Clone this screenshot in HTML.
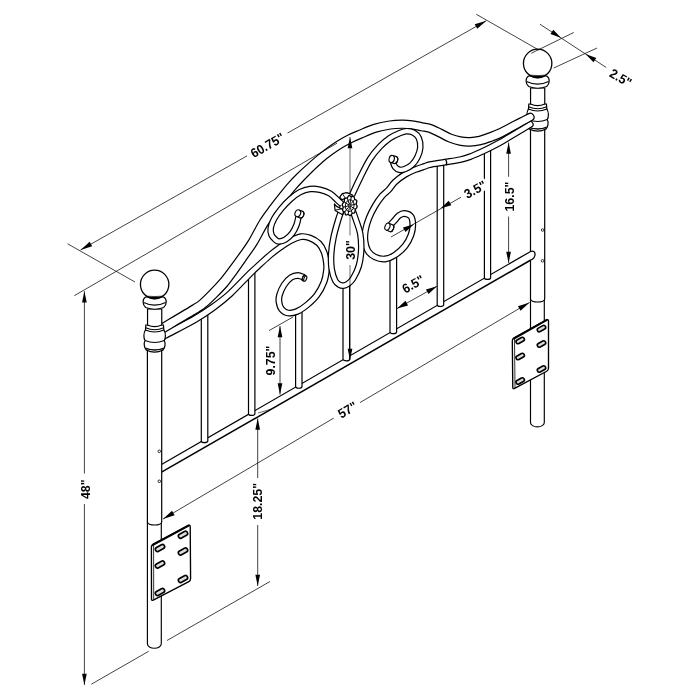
<!DOCTYPE html>
<html><head><meta charset="utf-8"><title>Headboard dimensions</title>
<style>html,body{margin:0;padding:0;background:#fff}svg{display:block}text{font-family:"Liberation Sans",Arial,sans-serif;font-weight:bold;fill:#000}</style>
</head><body>
<svg width="700" height="700" viewBox="0 0 700 700">
<rect width="700" height="700" fill="#fff"/>
<path d="M530.50 298.50 L530.50 422.50 A6.90 4.4 0 0 0 544.30 422.50 L544.30 298.50" fill="#fff" stroke="#000" stroke-width="1.15"/>
<path d="M530.50 128.00 L530.50 299.00 A7.10 3 0 0 0 544.70 299.00 L544.70 128.00" fill="#fff" stroke="#000" stroke-width="1.2"/>
<path d="M161.50 464.50 L530.60 251.46 C536.20 249.26 537.00 257.86 530.20 260.26 Q346.05 365.68 161.50 472.20 Z" fill="#fff" stroke="none"/>
<path d="M161.50 464.50 L530.60 251.46 C536.20 249.26 537.00 257.86 530.20 260.26" fill="none" stroke="#000" stroke-width="1.25"/>
<path d="M161.50 472.20 Q346.05 365.68 530.40 260.26" fill="none" stroke="#000" stroke-width="1.5"/>
<path d="M147.40 521.50 L147.40 643.80 A6.95 4.4 0 0 0 161.30 643.80 L161.30 521.50" fill="#fff" stroke="#000" stroke-width="1.15"/>
<path d="M147.40 345.00 L147.40 522.00 A7.15 3 0 0 0 161.70 522.00 L161.70 345.00" fill="#fff" stroke="#000" stroke-width="1.2"/>
<path d="M201.30 312.00 L201.30 440.95 A3.25 1.70 0 0 0 207.80 440.95 L207.80 312.00" fill="#fff" stroke="#000" stroke-width="1.2"/>
<path d="M248.50 272.00 L248.50 413.74 A3.20 1.70 0 0 0 254.90 413.74 L254.90 272.00" fill="#fff" stroke="#000" stroke-width="1.2"/>
<path d="M295.60 312.00 L295.60 386.55 A3.20 1.70 0 0 0 302.00 386.55 L302.00 312.00" fill="#fff" stroke="#000" stroke-width="1.2"/>
<path d="M343.00 284.00 L343.00 359.13 A3.30 1.70 0 0 0 349.60 359.13 L349.60 284.00" fill="#fff" stroke="#000" stroke-width="1.2"/>
<path d="M390.00 257.00 L390.00 332.01 A3.30 1.70 0 0 0 396.60 332.01 L396.60 257.00" fill="#fff" stroke="#000" stroke-width="1.2"/>
<path d="M437.20 160.00 L437.20 304.79 A3.25 1.70 0 0 0 443.70 304.79 L443.70 160.00" fill="#fff" stroke="#000" stroke-width="1.2"/>
<path d="M484.40 148.00 L484.40 277.63 A3.10 1.70 0 0 0 490.60 277.63 L490.60 148.00" fill="#fff" stroke="#000" stroke-width="1.2"/>
<path d="M528.45 109.00 C526.45 112.00 526.45 117.00 528.05 119.50 C526.65 122.00 527.05 127.00 529.25 129.00 L546.05 129.00 C548.25 127.00 548.65 122.00 547.25 119.50 C548.85 117.00 548.85 112.00 546.85 109.00 Z" fill="#fff" stroke="#000" stroke-width="1.2"/>
<path d="M529.25 129.00 Q537.65 133.20 546.05 129.00" fill="#fff" stroke="#000" stroke-width="1.2"/>
<path d="M528.45 127.00 Q537.65 131.20 546.85 127.00" fill="none" stroke="#000" stroke-width="1.1"/>
<path d="M528.05 119.50 Q537.65 123.50 547.25 119.50" fill="none" stroke="#000" stroke-width="1.1"/>
<path d="M528.85 104.00 L528.45 109.00 Q537.65 113.00 546.85 109.00 L546.45 104.00 Z" fill="#fff" stroke="#000" stroke-width="1.2"/>
<path d="M528.65 106.80 Q537.65 110.60 546.65 106.80" fill="none" stroke="#000" stroke-width="1.1"/>
<path d="M530.55 88.00 L530.55 104.00 Q537.65 107.40 544.75 104.00 L544.75 88.00 Z" fill="#fff" stroke="#000" stroke-width="1.2"/>
<path d="M528.65 76.00 C525.05 78.00 525.45 84.00 528.65 86.50 Q537.65 90.00 546.65 86.50 C549.85 84.00 550.25 78.00 546.65 76.00 Z" fill="#fff" stroke="#000" stroke-width="1.2"/>
<path d="M526.65 81.50 Q537.65 86.80 548.65 81.50" fill="none" stroke="#000" stroke-width="1.1"/>
<circle cx="537.65" cy="63.40" r="14.2" fill="#fff" stroke="#000" stroke-width="1.3"/>
<path d="M529.15 75.00 Q537.65 81.60 546.15 75.00 Q537.65 76.00 529.15 75.00 Z" fill="#000" stroke="#000" stroke-width="0.5"/>
<path d="M161.66 340.77 C162.48 340.31 160.77 341.13 166.60 338.00 C172.43 334.86 188.60 326.63 196.64 321.96 C204.69 317.29 208.98 314.32 214.87 309.99 C220.77 305.67 225.83 301.75 232.03 296.01 C238.22 290.27 247.06 280.52 252.04 275.56 C257.01 270.61 258.56 269.33 261.89 266.26 C265.22 263.20 268.71 259.90 271.99 257.15 C275.28 254.40 278.40 252.06 281.62 249.79 C284.83 247.51 287.98 245.21 291.28 243.49 C294.58 241.77 298.46 239.95 301.42 239.47 C304.37 238.99 306.41 239.62 309.01 240.62 C311.61 241.62 314.96 243.41 317.02 245.48 C319.08 247.55 320.31 250.21 321.40 253.03 C322.48 255.85 323.14 259.61 323.53 262.39 C323.91 265.16 324.08 266.58 323.72 269.68 C323.36 272.78 322.88 277.06 321.38 281.01 C319.89 284.95 317.44 289.70 314.75 293.34 C312.05 296.97 308.36 300.24 305.22 302.84 C302.08 305.44 298.71 307.69 295.91 308.92 C293.12 310.15 290.49 310.52 288.45 310.24 C286.40 309.95 284.78 308.67 283.67 307.23 C282.55 305.79 282.02 303.51 281.77 301.60 C281.53 299.70 281.42 298.30 282.19 295.79 C282.95 293.28 284.61 289.20 286.34 286.54 C288.07 283.88 290.63 281.19 292.57 279.82 C294.52 278.44 296.24 278.24 298.00 278.30 C299.76 278.36 302.26 279.85 303.11 280.16 L304.89 274.84 C303.74 274.49 300.58 272.64 298.00 272.70 C295.42 272.76 292.15 273.39 289.43 275.18 C286.70 276.98 283.76 280.29 281.66 283.46 C279.56 286.63 277.72 291.05 276.81 294.21 C275.91 297.37 275.81 299.64 276.23 302.40 C276.65 305.16 277.45 308.55 279.33 310.77 C281.22 313.00 284.43 315.21 287.55 315.76 C290.68 316.32 294.55 315.51 298.09 314.08 C301.62 312.65 305.25 310.06 308.78 307.16 C312.31 304.26 316.28 300.69 319.25 296.66 C322.22 292.64 324.95 287.39 326.62 282.99 C328.29 278.60 328.87 273.88 329.28 270.32 C329.69 266.76 329.52 264.84 329.07 261.61 C328.63 258.39 327.95 254.32 326.60 250.97 C325.26 247.62 323.58 244.12 320.98 241.52 C318.38 238.92 314.39 236.65 310.99 235.38 C307.59 234.12 304.30 233.41 300.58 233.93 C296.87 234.45 292.42 236.63 288.72 238.51 C285.02 240.39 281.77 242.82 278.38 245.21 C275.00 247.60 271.78 250.03 268.41 252.85 C265.03 255.67 261.52 259.04 258.11 262.14 C254.70 265.23 252.99 266.53 247.96 271.44 C242.94 276.34 234.11 286.03 227.97 291.59 C221.83 297.15 216.90 300.70 211.13 304.81 C205.36 308.92 201.31 311.71 193.36 316.24 C185.40 320.77 169.23 328.90 163.40 332.00 C157.56 335.10 159.18 334.36 158.34 334.83 Z" fill="#fff" stroke="none"/>
<path d="M161.66 340.77 C162.48 340.31 160.77 341.13 166.60 338.00 C172.43 334.86 188.60 326.63 196.64 321.96 C204.69 317.29 208.98 314.32 214.87 309.99 C220.77 305.67 225.83 301.75 232.03 296.01 C238.22 290.27 247.06 280.52 252.04 275.56 C257.01 270.61 258.56 269.33 261.89 266.26 C265.22 263.20 268.71 259.90 271.99 257.15 C275.28 254.40 278.40 252.06 281.62 249.79 C284.83 247.51 287.98 245.21 291.28 243.49 C294.58 241.77 298.46 239.95 301.42 239.47 C304.37 238.99 306.41 239.62 309.01 240.62 C311.61 241.62 314.96 243.41 317.02 245.48 C319.08 247.55 320.31 250.21 321.40 253.03 C322.48 255.85 323.14 259.61 323.53 262.39 C323.91 265.16 324.08 266.58 323.72 269.68 C323.36 272.78 322.88 277.06 321.38 281.01 C319.89 284.95 317.44 289.70 314.75 293.34 C312.05 296.97 308.36 300.24 305.22 302.84 C302.08 305.44 298.71 307.69 295.91 308.92 C293.12 310.15 290.49 310.52 288.45 310.24 C286.40 309.95 284.78 308.67 283.67 307.23 C282.55 305.79 282.02 303.51 281.77 301.60 C281.53 299.70 281.42 298.30 282.19 295.79 C282.95 293.28 284.61 289.20 286.34 286.54 C288.07 283.88 290.63 281.19 292.57 279.82 C294.52 278.44 296.24 278.24 298.00 278.30 C299.76 278.36 302.26 279.85 303.11 280.16" fill="none" stroke="#000" stroke-width="1.20" stroke-linecap="round"/>
<path d="M304.89 274.84 C303.74 274.49 300.58 272.64 298.00 272.70 C295.42 272.76 292.15 273.39 289.43 275.18 C286.70 276.98 283.76 280.29 281.66 283.46 C279.56 286.63 277.72 291.05 276.81 294.21 C275.91 297.37 275.81 299.64 276.23 302.40 C276.65 305.16 277.45 308.55 279.33 310.77 C281.22 313.00 284.43 315.21 287.55 315.76 C290.68 316.32 294.55 315.51 298.09 314.08 C301.62 312.65 305.25 310.06 308.78 307.16 C312.31 304.26 316.28 300.69 319.25 296.66 C322.22 292.64 324.95 287.39 326.62 282.99 C328.29 278.60 328.87 273.88 329.28 270.32 C329.69 266.76 329.52 264.84 329.07 261.61 C328.63 258.39 327.95 254.32 326.60 250.97 C325.26 247.62 323.58 244.12 320.98 241.52 C318.38 238.92 314.39 236.65 310.99 235.38 C307.59 234.12 304.30 233.41 300.58 233.93 C296.87 234.45 292.42 236.63 288.72 238.51 C285.02 240.39 281.77 242.82 278.38 245.21 C275.00 247.60 271.78 250.03 268.41 252.85 C265.03 255.67 261.52 259.04 258.11 262.14 C254.70 265.23 252.99 266.53 247.96 271.44 C242.94 276.34 234.11 286.03 227.97 291.59 C221.83 297.15 216.90 300.70 211.13 304.81 C205.36 308.92 201.31 311.71 193.36 316.24 C185.40 320.77 169.23 328.90 163.40 332.00 C157.56 335.10 159.18 334.36 158.34 334.83" fill="none" stroke="#000" stroke-width="1.20" stroke-linecap="round"/>
<path d="M389.00 226.50 C389.83 225.58 392.33 222.83 394.00 221.00 C395.67 219.17 397.25 216.75 399.00 215.50 C400.75 214.25 402.50 213.33 404.50 213.50 C406.50 213.67 409.62 214.58 411.00 216.50 C412.38 218.42 412.80 221.92 412.80 225.00 C412.80 228.08 412.30 231.50 411.00 235.00 C409.70 238.50 407.67 242.67 405.00 246.00 C402.33 249.33 398.33 252.83 395.00 255.00 C391.67 257.17 388.33 258.67 385.00 259.00 C381.67 259.33 377.83 258.33 375.00 257.00 C372.17 255.67 369.67 253.67 368.00 251.00 C366.33 248.33 365.42 244.50 365.00 241.00 C364.58 237.50 364.83 233.83 365.50 230.00 C366.17 226.17 367.42 222.00 369.00 218.00 C370.58 214.00 372.83 209.67 375.00 206.00 C377.17 202.33 379.75 198.67 382.00 196.00 C384.25 193.33 386.33 192.33 388.50 190.00 C390.67 187.67 392.25 184.58 395.00 182.00 C397.75 179.42 401.67 176.55 405.00 174.50 C408.33 172.45 411.67 171.07 415.00 169.70 C418.33 168.33 422.50 167.15 425.00 166.30 C427.50 165.45 426.67 165.28 430.00 164.60 C433.33 163.92 440.00 163.02 445.00 162.20 C450.00 161.38 455.83 160.62 460.00 159.70 C464.17 158.78 466.67 157.90 470.00 156.70 C473.33 155.50 476.67 154.00 480.00 152.50 C483.33 151.00 486.67 149.37 490.00 147.70 C493.33 146.03 497.17 144.05 500.00 142.50 C502.83 140.95 503.67 140.38 507.00 138.40 C510.33 136.42 516.12 132.93 520.00 130.60 C523.88 128.27 528.58 125.43 530.30 124.40" fill="none" stroke="#000" stroke-width="6.80" stroke-linecap="round" stroke-linejoin="round"/>
<path d="M389.00 226.50 C389.83 225.58 392.33 222.83 394.00 221.00 C395.67 219.17 397.25 216.75 399.00 215.50 C400.75 214.25 402.50 213.33 404.50 213.50 C406.50 213.67 409.62 214.58 411.00 216.50 C412.38 218.42 412.80 221.92 412.80 225.00 C412.80 228.08 412.30 231.50 411.00 235.00 C409.70 238.50 407.67 242.67 405.00 246.00 C402.33 249.33 398.33 252.83 395.00 255.00 C391.67 257.17 388.33 258.67 385.00 259.00 C381.67 259.33 377.83 258.33 375.00 257.00 C372.17 255.67 369.67 253.67 368.00 251.00 C366.33 248.33 365.42 244.50 365.00 241.00 C364.58 237.50 364.83 233.83 365.50 230.00 C366.17 226.17 367.42 222.00 369.00 218.00 C370.58 214.00 372.83 209.67 375.00 206.00 C377.17 202.33 379.75 198.67 382.00 196.00 C384.25 193.33 386.33 192.33 388.50 190.00 C390.67 187.67 392.25 184.58 395.00 182.00 C397.75 179.42 401.67 176.55 405.00 174.50 C408.33 172.45 411.67 171.07 415.00 169.70 C418.33 168.33 422.50 167.15 425.00 166.30 C427.50 165.45 426.67 165.28 430.00 164.60 C433.33 163.92 440.00 163.02 445.00 162.20 C450.00 161.38 455.83 160.62 460.00 159.70 C464.17 158.78 466.67 157.90 470.00 156.70 C473.33 155.50 476.67 154.00 480.00 152.50 C483.33 151.00 486.67 149.37 490.00 147.70 C493.33 146.03 497.17 144.05 500.00 142.50 C502.83 140.95 503.67 140.38 507.00 138.40 C510.33 136.42 516.12 132.93 520.00 130.60 C523.88 128.27 528.58 125.43 530.30 124.40" fill="none" stroke="#fff" stroke-width="4.40" stroke-linecap="round" stroke-linejoin="round"/>
<path d="M162.26 333.59 C163.10 333.11 161.44 334.13 167.29 330.67 C173.14 327.22 190.92 316.83 197.38 312.88 C203.84 308.92 202.88 309.52 206.04 306.93 C209.21 304.35 212.79 300.88 216.37 297.35 C219.94 293.82 224.09 289.75 227.49 285.74 C230.90 281.73 233.47 277.89 236.79 273.28 C240.11 268.68 244.07 262.93 247.42 258.11 C250.78 253.30 253.55 249.89 256.92 244.40 C260.30 238.91 264.21 230.68 267.69 225.17 C271.17 219.66 274.47 215.73 277.80 211.35 C281.12 206.98 284.59 202.70 287.64 198.91 C290.69 195.12 293.46 191.65 296.07 188.63 C298.69 185.60 300.49 183.71 303.31 180.77 C306.12 177.83 309.75 174.12 312.97 170.98 C316.19 167.84 319.40 164.72 322.64 161.94 C325.88 159.16 329.17 156.69 332.42 154.31 C335.67 151.94 338.91 149.67 342.15 147.69 C345.39 145.71 348.60 144.02 351.84 142.42 C355.08 140.82 357.52 139.79 361.57 138.09 C365.63 136.38 371.36 133.68 376.20 132.17 C381.04 130.65 386.30 129.66 390.61 129.00 C394.91 128.35 398.56 128.28 402.04 128.25 C405.52 128.22 408.28 128.40 411.48 128.82 C414.67 129.24 418.34 130.21 421.21 130.77 C424.08 131.33 425.85 131.21 428.70 132.18 C431.54 133.15 434.97 135.01 438.27 136.61 C441.57 138.20 445.00 140.35 448.50 141.76 C451.99 143.17 455.62 144.36 459.23 145.08 C462.83 145.79 466.48 146.11 470.11 146.05 C473.73 145.98 477.40 145.48 480.96 144.69 C484.53 143.90 488.02 142.59 491.51 141.33 C495.00 140.08 497.52 139.35 501.92 137.16 C506.32 134.97 513.94 130.44 517.93 128.22 C521.91 126.00 523.44 125.19 525.83 123.84 C528.22 122.50 531.18 120.77 532.25 120.16 L528.75 113.64 C527.65 114.19 524.62 115.73 522.17 116.96 C519.72 118.18 518.09 118.93 514.07 120.98 C510.06 123.03 502.34 127.23 498.08 129.24 C493.82 131.25 491.67 131.89 488.49 133.07 C485.32 134.24 482.14 135.56 479.04 136.31 C475.94 137.06 472.94 137.45 469.89 137.55 C466.85 137.65 463.84 137.47 460.77 136.92 C457.71 136.37 454.68 135.49 451.50 134.24 C448.33 132.98 445.10 131.00 441.73 129.39 C438.36 127.79 434.46 125.71 431.30 124.62 C428.15 123.52 425.92 123.47 422.79 122.83 C419.66 122.19 415.99 121.23 412.52 120.78 C409.05 120.34 405.82 120.11 401.96 120.15 C398.11 120.19 394.09 120.28 389.39 121.00 C384.70 121.71 378.96 122.85 373.80 124.43 C368.64 126.02 362.70 128.76 358.43 130.51 C354.15 132.27 351.59 133.28 348.16 134.98 C344.73 136.68 341.28 138.59 337.85 140.71 C334.42 142.83 331.00 145.20 327.58 147.69 C324.17 150.18 320.79 152.84 317.36 155.66 C313.94 158.48 310.47 161.53 307.03 164.62 C303.58 167.72 299.71 171.27 296.69 174.23 C293.68 177.19 291.68 179.26 288.93 182.37 C286.17 185.48 283.28 189.01 280.16 192.89 C277.04 196.77 273.60 201.09 270.20 205.65 C266.81 210.20 263.33 214.57 259.81 220.23 C256.29 225.89 252.38 234.16 249.08 239.60 C245.77 245.04 243.29 248.20 239.98 252.89 C236.66 257.57 232.52 263.29 229.21 267.72 C225.90 272.15 223.37 275.63 220.11 279.46 C216.84 283.28 212.96 287.25 209.63 290.65 C206.31 294.05 202.99 297.45 200.16 299.87 C197.32 302.28 198.86 301.28 192.62 305.12 C186.38 308.97 168.52 319.48 162.71 322.93 C156.90 326.37 158.57 325.33 157.74 325.81 Z" fill="#fff" stroke="none"/>
<path d="M162.26 333.59 C163.10 333.11 161.44 334.13 167.29 330.67 C173.14 327.22 190.92 316.83 197.38 312.88 C203.84 308.92 202.88 309.52 206.04 306.93 C209.21 304.35 212.79 300.88 216.37 297.35 C219.94 293.82 224.09 289.75 227.49 285.74 C230.90 281.73 233.47 277.89 236.79 273.28 C240.11 268.68 244.07 262.93 247.42 258.11 C250.78 253.30 253.55 249.89 256.92 244.40 C260.30 238.91 264.21 230.68 267.69 225.17 C271.17 219.66 274.47 215.73 277.80 211.35 C281.12 206.98 284.59 202.70 287.64 198.91 C290.69 195.12 293.46 191.65 296.07 188.63 C298.69 185.60 300.49 183.71 303.31 180.77 C306.12 177.83 309.75 174.12 312.97 170.98 C316.19 167.84 319.40 164.72 322.64 161.94 C325.88 159.16 329.17 156.69 332.42 154.31 C335.67 151.94 338.91 149.67 342.15 147.69 C345.39 145.71 348.60 144.02 351.84 142.42 C355.08 140.82 357.52 139.79 361.57 138.09 C365.63 136.38 371.36 133.68 376.20 132.17 C381.04 130.65 386.30 129.66 390.61 129.00 C394.91 128.35 398.56 128.28 402.04 128.25 C405.52 128.22 408.28 128.40 411.48 128.82 C414.67 129.24 418.34 130.21 421.21 130.77 C424.08 131.33 425.85 131.21 428.70 132.18 C431.54 133.15 434.97 135.01 438.27 136.61 C441.57 138.20 445.00 140.35 448.50 141.76 C451.99 143.17 455.62 144.36 459.23 145.08 C462.83 145.79 466.48 146.11 470.11 146.05 C473.73 145.98 477.40 145.48 480.96 144.69 C484.53 143.90 488.02 142.59 491.51 141.33 C495.00 140.08 497.52 139.35 501.92 137.16 C506.32 134.97 513.94 130.44 517.93 128.22 C521.91 126.00 523.44 125.19 525.83 123.84 C528.22 122.50 531.18 120.77 532.25 120.16" fill="none" stroke="#000" stroke-width="1.20" stroke-linecap="round"/>
<path d="M528.75 113.64 C527.65 114.19 524.62 115.73 522.17 116.96 C519.72 118.18 518.09 118.93 514.07 120.98 C510.06 123.03 502.34 127.23 498.08 129.24 C493.82 131.25 491.67 131.89 488.49 133.07 C485.32 134.24 482.14 135.56 479.04 136.31 C475.94 137.06 472.94 137.45 469.89 137.55 C466.85 137.65 463.84 137.47 460.77 136.92 C457.71 136.37 454.68 135.49 451.50 134.24 C448.33 132.98 445.10 131.00 441.73 129.39 C438.36 127.79 434.46 125.71 431.30 124.62 C428.15 123.52 425.92 123.47 422.79 122.83 C419.66 122.19 415.99 121.23 412.52 120.78 C409.05 120.34 405.82 120.11 401.96 120.15 C398.11 120.19 394.09 120.28 389.39 121.00 C384.70 121.71 378.96 122.85 373.80 124.43 C368.64 126.02 362.70 128.76 358.43 130.51 C354.15 132.27 351.59 133.28 348.16 134.98 C344.73 136.68 341.28 138.59 337.85 140.71 C334.42 142.83 331.00 145.20 327.58 147.69 C324.17 150.18 320.79 152.84 317.36 155.66 C313.94 158.48 310.47 161.53 307.03 164.62 C303.58 167.72 299.71 171.27 296.69 174.23 C293.68 177.19 291.68 179.26 288.93 182.37 C286.17 185.48 283.28 189.01 280.16 192.89 C277.04 196.77 273.60 201.09 270.20 205.65 C266.81 210.20 263.33 214.57 259.81 220.23 C256.29 225.89 252.38 234.16 249.08 239.60 C245.77 245.04 243.29 248.20 239.98 252.89 C236.66 257.57 232.52 263.29 229.21 267.72 C225.90 272.15 223.37 275.63 220.11 279.46 C216.84 283.28 212.96 287.25 209.63 290.65 C206.31 294.05 202.99 297.45 200.16 299.87 C197.32 302.28 198.86 301.28 192.62 305.12 C186.38 308.97 168.52 319.48 162.71 322.93 C156.90 326.37 158.57 325.33 157.74 325.81" fill="none" stroke="#000" stroke-width="1.20" stroke-linecap="round"/>
<path d="M532.25 120.16 C536.29 117.98 532.79 111.47 528.75 113.64" fill="#fff" stroke="#000" stroke-width="1.20"/>
<path d="M298.70 216.00 C298.33 217.50 297.62 222.08 296.50 225.00 C295.38 227.92 293.83 231.08 292.00 233.50 C290.17 235.92 287.67 238.17 285.50 239.50 C283.33 240.83 280.67 241.45 279.00 241.50 C277.33 241.55 276.75 240.88 275.50 239.80 C274.25 238.72 272.30 236.97 271.50 235.00 C270.70 233.03 270.28 230.67 270.70 228.00 C271.12 225.33 272.28 222.17 274.00 219.00 C275.72 215.83 278.33 212.25 281.00 209.00 C283.67 205.75 286.83 202.30 290.00 199.50 C293.17 196.70 296.67 193.95 300.00 192.20 C303.33 190.45 306.67 189.42 310.00 189.00 C313.33 188.58 316.67 188.95 320.00 189.70 C323.33 190.45 327.00 191.68 330.00 193.50 C333.00 195.32 335.50 198.35 338.00 200.60 C340.50 202.85 343.83 205.93 345.00 207.00" fill="none" stroke="#000" stroke-width="6.60" stroke-linecap="butt" stroke-linejoin="round"/>
<path d="M298.70 216.00 C298.33 217.50 297.62 222.08 296.50 225.00 C295.38 227.92 293.83 231.08 292.00 233.50 C290.17 235.92 287.67 238.17 285.50 239.50 C283.33 240.83 280.67 241.45 279.00 241.50 C277.33 241.55 276.75 240.88 275.50 239.80 C274.25 238.72 272.30 236.97 271.50 235.00 C270.70 233.03 270.28 230.67 270.70 228.00 C271.12 225.33 272.28 222.17 274.00 219.00 C275.72 215.83 278.33 212.25 281.00 209.00 C283.67 205.75 286.83 202.30 290.00 199.50 C293.17 196.70 296.67 193.95 300.00 192.20 C303.33 190.45 306.67 189.42 310.00 189.00 C313.33 188.58 316.67 188.95 320.00 189.70 C323.33 190.45 327.00 191.68 330.00 193.50 C333.00 195.32 335.50 198.35 338.00 200.60 C340.50 202.85 343.83 205.93 345.00 207.00" fill="none" stroke="#fff" stroke-width="4.20" stroke-linecap="butt" stroke-linejoin="round"/>
<path d="M352.00 195.00 C353.33 192.17 357.00 184.00 360.00 178.00 C363.00 172.00 366.67 164.25 370.00 159.00 C373.33 153.75 376.67 150.00 380.00 146.50 C383.33 143.00 386.67 140.25 390.00 138.00 C393.33 135.75 397.25 134.13 400.00 133.00 C402.75 131.87 404.25 131.25 406.50 131.20 C408.75 131.15 411.45 131.57 413.50 132.70 C415.55 133.83 417.67 135.53 418.80 138.00 C419.93 140.47 420.52 144.33 420.30 147.50 C420.08 150.67 418.88 154.12 417.50 157.00 C416.12 159.88 414.08 162.80 412.00 164.80 C409.92 166.80 407.08 168.17 405.00 169.00 C402.92 169.83 401.17 170.17 399.50 169.80 C397.83 169.43 396.08 168.10 395.00 166.80 C393.92 165.50 393.33 162.80 393.00 162.00" fill="none" stroke="#000" stroke-width="6.60" stroke-linecap="butt" stroke-linejoin="round"/>
<path d="M352.00 195.00 C353.33 192.17 357.00 184.00 360.00 178.00 C363.00 172.00 366.67 164.25 370.00 159.00 C373.33 153.75 376.67 150.00 380.00 146.50 C383.33 143.00 386.67 140.25 390.00 138.00 C393.33 135.75 397.25 134.13 400.00 133.00 C402.75 131.87 404.25 131.25 406.50 131.20 C408.75 131.15 411.45 131.57 413.50 132.70 C415.55 133.83 417.67 135.53 418.80 138.00 C419.93 140.47 420.52 144.33 420.30 147.50 C420.08 150.67 418.88 154.12 417.50 157.00 C416.12 159.88 414.08 162.80 412.00 164.80 C409.92 166.80 407.08 168.17 405.00 169.00 C402.92 169.83 401.17 170.17 399.50 169.80 C397.83 169.43 396.08 168.10 395.00 166.80 C393.92 165.50 393.33 162.80 393.00 162.00" fill="none" stroke="#fff" stroke-width="4.20" stroke-linecap="butt" stroke-linejoin="round"/>
<path d="M343.00 206.00 C342.20 208.33 339.78 214.75 338.20 220.00 C336.62 225.25 334.67 231.83 333.50 237.50 C332.33 243.17 331.50 248.75 331.20 254.00 C330.90 259.25 331.03 264.57 331.70 269.00 C332.37 273.43 333.93 278.00 335.20 280.60 C336.47 283.20 337.92 283.77 339.30 284.60 C340.68 285.43 342.02 285.77 343.50 285.60 C344.98 285.43 346.62 284.77 348.20 283.60 C349.78 282.43 351.23 281.53 353.00 278.60 C354.77 275.67 357.43 270.77 358.80 266.00 C360.17 261.23 360.97 255.42 361.20 250.00 C361.43 244.58 361.07 238.50 360.20 233.50 C359.33 228.50 357.53 224.58 356.00 220.00 C354.47 215.42 351.83 208.33 351.00 206.00" fill="none" stroke="#000" stroke-width="6.60" stroke-linecap="butt" stroke-linejoin="round"/>
<path d="M343.00 206.00 C342.20 208.33 339.78 214.75 338.20 220.00 C336.62 225.25 334.67 231.83 333.50 237.50 C332.33 243.17 331.50 248.75 331.20 254.00 C330.90 259.25 331.03 264.57 331.70 269.00 C332.37 273.43 333.93 278.00 335.20 280.60 C336.47 283.20 337.92 283.77 339.30 284.60 C340.68 285.43 342.02 285.77 343.50 285.60 C344.98 285.43 346.62 284.77 348.20 283.60 C349.78 282.43 351.23 281.53 353.00 278.60 C354.77 275.67 357.43 270.77 358.80 266.00 C360.17 261.23 360.97 255.42 361.20 250.00 C361.43 244.58 361.07 238.50 360.20 233.50 C359.33 228.50 357.53 224.58 356.00 220.00 C354.47 215.42 351.83 208.33 351.00 206.00" fill="none" stroke="#fff" stroke-width="4.20" stroke-linecap="butt" stroke-linejoin="round"/>
<path d="M445.4 159.4 Q447.6 162 446.2 165.2" fill="none" stroke="#000" stroke-width="1.2"/>
<g transform="translate(299.40 213.90) rotate(-158.0)">
<ellipse cx="-1.70" cy="0" rx="2.80" ry="3.50" fill="#fff" stroke="#000" stroke-width="1.1"/>
<rect x="-1.70" y="-3.50" width="3.40" height="7.00" fill="#fff" stroke="none"/>
<path d="M-1.70 -3.50 L1.70 -3.50 M-1.70 3.50 L1.70 3.50" stroke="#000" stroke-width="1.1" fill="none"/>
<ellipse cx="1.70" cy="0" rx="2.80" ry="3.50" fill="#fff" stroke="#000" stroke-width="1.1"/>
<path d="M-1.70 -3.50 A2.80 3.50 0 0 0 -1.70 3.50" fill="none" stroke="#000" stroke-width="1.0"/>
</g>
<g transform="translate(304.50 278.30) rotate(20.0)">
<ellipse cx="-0.80" cy="0" rx="1.30" ry="2.80" fill="#fff" stroke="#000" stroke-width="1.1"/>
<rect x="-0.80" y="-2.80" width="1.60" height="5.60" fill="#fff" stroke="none"/>
<path d="M-0.80 -2.80 L0.80 -2.80 M-0.80 2.80 L0.80 2.80" stroke="#000" stroke-width="1.1" fill="none"/>
<ellipse cx="0.80" cy="0" rx="1.30" ry="2.80" fill="#fff" stroke="#000" stroke-width="1.1"/>
<path d="M-0.80 -2.80 A1.30 2.80 0 0 0 -0.80 2.80" fill="none" stroke="#000" stroke-width="1.0"/>
</g>
<g transform="translate(393.40 159.50) rotate(-164.0)">
<ellipse cx="-1.75" cy="0" rx="2.60" ry="3.60" fill="#fff" stroke="#000" stroke-width="1.1"/>
<rect x="-1.75" y="-3.60" width="3.50" height="7.20" fill="#fff" stroke="none"/>
<path d="M-1.75 -3.60 L1.75 -3.60 M-1.75 3.60 L1.75 3.60" stroke="#000" stroke-width="1.1" fill="none"/>
<ellipse cx="1.75" cy="0" rx="2.60" ry="3.60" fill="#fff" stroke="#000" stroke-width="1.1"/>
<path d="M-1.75 -3.60 A2.60 3.60 0 0 0 -1.75 3.60" fill="none" stroke="#000" stroke-width="1.0"/>
</g>
<g transform="translate(389.30 227.40) rotate(-158.0)">
<ellipse cx="-2.00" cy="0" rx="2.40" ry="3.70" fill="#fff" stroke="#000" stroke-width="1.1"/>
<rect x="-2.00" y="-3.70" width="4.00" height="7.40" fill="#fff" stroke="none"/>
<path d="M-2.00 -3.70 L2.00 -3.70 M-2.00 3.70 L2.00 3.70" stroke="#000" stroke-width="1.1" fill="none"/>
<ellipse cx="2.00" cy="0" rx="2.40" ry="3.70" fill="#fff" stroke="#000" stroke-width="1.1"/>
<path d="M-2.00 -3.70 A2.40 3.70 0 0 0 -2.00 3.70" fill="none" stroke="#000" stroke-width="1.0"/>
</g>
<path d="M339.70 197.20 L342.30 193.60 L346.90 192.60 L352.50 195.00 L349.00 199.50 L345.10 198.40 L341.90 199.80Z" fill="#fff" stroke="#000" stroke-width="1.20" stroke-linejoin="round"/>
<path d="M342.6 194 L345.4 198.2" stroke="#000" stroke-width="0.9" fill="none"/>
<path d="M334.40 204.00 L335.10 210.40 L342.60 214.80 L344.20 209.60 L341.10 208.70 L336.60 206.40Z" fill="#fff" stroke="#000" stroke-width="1.20" stroke-linejoin="round"/>
<path d="M335.4 210 L341.4 208.9" stroke="#000" stroke-width="0.9" fill="none"/>
<g transform="translate(349.70 205.60) rotate(10)">
<path d="M7.49 0.00 L7.41 0.53 L7.21 1.04 L6.91 1.50 L6.61 1.93 L6.35 2.33 L6.19 2.76 L6.14 3.23 L6.17 3.77 L6.24 4.36 L6.27 4.97 L6.23 5.55 L6.06 6.04 L5.77 6.41 L5.38 6.65 L4.95 6.79 L4.52 6.88 L4.14 7.01 L3.83 7.22 L3.58 7.56 L3.38 8.02 L3.18 8.55 L2.95 9.08 L2.66 9.51 L2.31 9.77 L1.92 9.84 L1.51 9.72 L1.10 9.48 L0.71 9.21 L0.34 9.01 L0.00 8.93 L-0.34 9.01 L-0.71 9.21 L-1.10 9.48 L-1.51 9.72 L-1.92 9.84 L-2.31 9.77 L-2.66 9.51 L-2.95 9.08 L-3.18 8.55 L-3.38 8.02 L-3.58 7.56 L-3.83 7.22 L-4.14 7.01 L-4.52 6.88 L-4.95 6.79 L-5.38 6.65 L-5.77 6.41 L-6.06 6.04 L-6.23 5.55 L-6.27 4.97 L-6.24 4.36 L-6.17 3.77 L-6.14 3.23 L-6.19 2.76 L-6.35 2.33 L-6.61 1.93 L-6.91 1.50 L-7.21 1.04 L-7.41 0.53 L-7.49 0.00 L-7.41 -0.53 L-7.21 -1.04 L-6.91 -1.50 L-6.61 -1.93 L-6.35 -2.33 L-6.19 -2.76 L-6.14 -3.23 L-6.17 -3.77 L-6.24 -4.36 L-6.27 -4.97 L-6.23 -5.55 L-6.06 -6.04 L-5.77 -6.41 L-5.38 -6.65 L-4.95 -6.79 L-4.52 -6.88 L-4.14 -7.01 L-3.83 -7.22 L-3.58 -7.56 L-3.38 -8.02 L-3.18 -8.55 L-2.95 -9.08 L-2.66 -9.51 L-2.31 -9.77 L-1.92 -9.84 L-1.51 -9.72 L-1.10 -9.48 L-0.71 -9.21 L-0.34 -9.01 L-0.00 -8.93 L0.34 -9.01 L0.71 -9.21 L1.10 -9.48 L1.51 -9.72 L1.92 -9.84 L2.31 -9.77 L2.66 -9.51 L2.95 -9.08 L3.18 -8.55 L3.38 -8.02 L3.58 -7.56 L3.83 -7.22 L4.14 -7.01 L4.52 -6.88 L4.95 -6.79 L5.38 -6.65 L5.77 -6.41 L6.06 -6.04 L6.23 -5.55 L6.27 -4.97 L6.24 -4.36 L6.17 -3.77 L6.14 -3.23 L6.19 -2.76 L6.35 -2.33 L6.61 -1.93 L6.91 -1.50 L7.21 -1.04 L7.41 -0.53Z" fill="#fff" stroke="#000" stroke-width="1.3" stroke-linejoin="round"/>
<path d="M1.86 0.83 L6.19 2.76" stroke="#000" stroke-width="0.9"/>
<path d="M1.15 2.17 L3.83 7.22" stroke="#000" stroke-width="0.9"/>
<path d="M0.00 2.69 L0.00 8.93" stroke="#000" stroke-width="0.9"/>
<path d="M-1.15 2.17 L-3.83 7.22" stroke="#000" stroke-width="0.9"/>
<path d="M-1.86 0.83 L-6.19 2.76" stroke="#000" stroke-width="0.9"/>
<path d="M-1.86 -0.83 L-6.19 -2.76" stroke="#000" stroke-width="0.9"/>
<path d="M-1.15 -2.17 L-3.83 -7.22" stroke="#000" stroke-width="0.9"/>
<path d="M-0.00 -2.69 L-0.00 -8.93" stroke="#000" stroke-width="0.9"/>
<path d="M1.15 -2.17 L3.83 -7.22" stroke="#000" stroke-width="0.9"/>
<path d="M1.86 -0.83 L6.19 -2.76" stroke="#000" stroke-width="0.9"/>
<ellipse cx="0" cy="0" rx="4.34" ry="5.95" fill="none" stroke="#000" stroke-width="0.9"/>
<ellipse cx="0" cy="0" rx="1.54" ry="2.11" fill="#555" stroke="#000" stroke-width="0.8"/>
</g>
<path d="M145.45 330.00 C143.45 333.00 143.45 338.00 145.05 340.50 C143.65 343.00 144.05 348.00 146.25 350.00 L163.05 350.00 C165.25 348.00 165.65 343.00 164.25 340.50 C165.85 338.00 165.85 333.00 163.85 330.00 Z" fill="#fff" stroke="#000" stroke-width="1.2"/>
<path d="M146.25 350.00 Q154.65 354.20 163.05 350.00" fill="#fff" stroke="#000" stroke-width="1.2"/>
<path d="M145.45 348.00 Q154.65 352.20 163.85 348.00" fill="none" stroke="#000" stroke-width="1.1"/>
<path d="M145.05 340.50 Q154.65 344.50 164.25 340.50" fill="none" stroke="#000" stroke-width="1.1"/>
<path d="M145.85 325.00 L145.45 330.00 Q154.65 334.00 163.85 330.00 L163.45 325.00 Z" fill="#fff" stroke="#000" stroke-width="1.2"/>
<path d="M145.65 327.80 Q154.65 331.60 163.65 327.80" fill="none" stroke="#000" stroke-width="1.1"/>
<path d="M147.55 309.00 L147.55 325.00 Q154.65 328.40 161.75 325.00 L161.75 309.00 Z" fill="#fff" stroke="#000" stroke-width="1.2"/>
<path d="M145.65 297.00 C142.05 299.00 142.45 305.00 145.65 307.50 Q154.65 311.00 163.65 307.50 C166.85 305.00 167.25 299.00 163.65 297.00 Z" fill="#fff" stroke="#000" stroke-width="1.2"/>
<path d="M143.65 302.50 Q154.65 307.80 165.65 302.50" fill="none" stroke="#000" stroke-width="1.1"/>
<circle cx="154.65" cy="284.40" r="14.2" fill="#fff" stroke="#000" stroke-width="1.3"/>
<path d="M146.15 296.00 Q154.65 302.60 163.15 296.00 Q154.65 297.00 146.15 296.00 Z" fill="#000" stroke="#000" stroke-width="0.5"/>
<circle cx="159.30" cy="451.30" r="1.3" fill="#fff" stroke="#000" stroke-width="0.8"/>
<circle cx="159.30" cy="481.30" r="1.3" fill="#fff" stroke="#000" stroke-width="0.8"/>
<circle cx="542.60" cy="230.00" r="1.3" fill="#fff" stroke="#000" stroke-width="0.8"/>
<circle cx="542.60" cy="260.80" r="1.3" fill="#fff" stroke="#000" stroke-width="0.8"/>
<path d="M151.40 547.00 Q151.40 545.00 153.17 544.07 L188.43 525.53 Q190.20 524.60 190.21 526.60 L190.59 578.60 Q190.60 580.60 188.83 581.53 L153.27 600.07 Q151.50 601.00 151.50 599.00 Z" fill="#fff" stroke="#000" stroke-width="1.35" stroke-linejoin="round"/>
<path d="M153.00 544.90 L188.60 525.50" fill="none" stroke="#000" stroke-width="2.0" stroke-linecap="round"/>
<path d="M153.60 545.30 L153.70 599.60" fill="none" stroke="#000" stroke-width="0.8"/>
<rect x="155.00" y="545.85" width="10.00" height="4.30" rx="2.15" fill="#dcdcdc" stroke="#000" stroke-width="1.6" transform="rotate(-29 160.00 548.00)"/>
<rect x="155.00" y="562.35" width="10.00" height="4.30" rx="2.15" fill="#dcdcdc" stroke="#000" stroke-width="1.6" transform="rotate(-29 160.00 564.50)"/>
<rect x="155.00" y="589.85" width="10.00" height="4.30" rx="2.15" fill="#dcdcdc" stroke="#000" stroke-width="1.6" transform="rotate(-29 160.00 592.00)"/>
<rect x="178.00" y="532.55" width="10.00" height="4.30" rx="2.15" fill="#dcdcdc" stroke="#000" stroke-width="1.6" transform="rotate(-29 183.00 534.70)"/>
<rect x="178.00" y="549.35" width="10.00" height="4.30" rx="2.15" fill="#dcdcdc" stroke="#000" stroke-width="1.6" transform="rotate(-29 183.00 551.50)"/>
<rect x="178.00" y="576.85" width="10.00" height="4.30" rx="2.15" fill="#dcdcdc" stroke="#000" stroke-width="1.6" transform="rotate(-29 183.00 579.00)"/>
<path d="M512.32 340.70 Q512.30 338.70 514.06 337.74 L546.74 319.96 Q548.50 319.00 548.50 321.00 L548.50 368.30 Q548.50 370.30 546.73 371.24 L514.57 388.36 Q512.80 389.30 512.78 387.30 Z" fill="#fff" stroke="#000" stroke-width="1.35" stroke-linejoin="round"/>
<path d="M513.90 338.60 L546.90 319.90" fill="none" stroke="#000" stroke-width="2.0" stroke-linecap="round"/>
<path d="M514.50 339.00 L515.00 387.90" fill="none" stroke="#000" stroke-width="0.8"/>
<rect x="515.70" y="338.55" width="9.00" height="3.90" rx="1.95" fill="#dcdcdc" stroke="#000" stroke-width="1.6" transform="rotate(-29 520.20 340.50)"/>
<rect x="515.70" y="354.55" width="9.00" height="3.90" rx="1.95" fill="#dcdcdc" stroke="#000" stroke-width="1.6" transform="rotate(-29 520.20 356.50)"/>
<rect x="515.70" y="379.05" width="9.00" height="3.90" rx="1.95" fill="#dcdcdc" stroke="#000" stroke-width="1.6" transform="rotate(-29 520.20 381.00)"/>
<rect x="537.00" y="326.65" width="9.00" height="3.90" rx="1.95" fill="#dcdcdc" stroke="#000" stroke-width="1.6" transform="rotate(-29 541.50 328.60)"/>
<rect x="537.00" y="342.05" width="9.00" height="3.90" rx="1.95" fill="#dcdcdc" stroke="#000" stroke-width="1.6" transform="rotate(-29 541.50 344.00)"/>
<rect x="537.00" y="367.05" width="9.00" height="3.90" rx="1.95" fill="#dcdcdc" stroke="#000" stroke-width="1.6" transform="rotate(-29 541.50 369.00)"/>
<g opacity="0.995">
<line x1="80.50" y1="250.00" x2="247.00" y2="155.90" stroke="#000" stroke-width="0.75"/>
<line x1="287.50" y1="133.05" x2="486.40" y2="20.70" stroke="#000" stroke-width="0.75"/>
<polygon points="80.50,250.00 89.66,241.83 92.22,246.35" fill="#000"/>
<polygon points="486.40,20.70 477.24,28.87 474.68,24.35" fill="#000"/>
<text transform="translate(267.40 145.20) rotate(-29.40) scale(0.945 1)" font-size="13.10" text-anchor="middle" dominant-baseline="central">60.75"</text>
<line x1="67.50" y1="243.75" x2="135.00" y2="282.00" stroke="#000" stroke-width="0.75"/>
<line x1="476.25" y1="14.25" x2="538.75" y2="50.00" stroke="#000" stroke-width="0.75"/>
<line x1="540.00" y1="24.25" x2="606.25" y2="67.50" stroke="#000" stroke-width="0.75"/>
<polygon points="561.25,38.00 550.44,34.08 553.27,29.72" fill="#000"/>
<polygon points="585.50,54.00 596.31,57.92 593.48,62.28" fill="#000"/>
<line x1="531.25" y1="53.25" x2="573.75" y2="32.50" stroke="#000" stroke-width="0.75"/>
<line x1="553.75" y1="68.00" x2="597.00" y2="48.00" stroke="#000" stroke-width="0.75"/>
<text transform="translate(620.75 77.80) rotate(30.00) scale(0.945 1)" font-size="13.10" text-anchor="middle" dominant-baseline="central">2.5"</text>
<line x1="84.40" y1="291.25" x2="84.40" y2="473.50" stroke="#000" stroke-width="0.75"/>
<line x1="84.40" y1="504.00" x2="84.40" y2="685.00" stroke="#000" stroke-width="0.75"/>
<polygon points="84.40,291.25 86.75,302.45 82.05,302.45" fill="#000"/>
<polygon points="84.40,685.00 82.05,673.80 86.75,673.80" fill="#000"/>
<text transform="translate(85.00 489.30) rotate(-90.00) scale(0.945 1)" font-size="13.10" text-anchor="middle" dominant-baseline="central">48"</text>
<line x1="74.30" y1="295.70" x2="337.00" y2="143.20" stroke="#000" stroke-width="0.75"/>
<line x1="91.25" y1="684.25" x2="148.75" y2="651.25" stroke="#000" stroke-width="0.75"/>
<line x1="167.00" y1="640.50" x2="270.00" y2="581.50" stroke="#000" stroke-width="0.75"/>
<line x1="257.70" y1="418.50" x2="257.70" y2="478.00" stroke="#000" stroke-width="0.75"/>
<line x1="257.70" y1="525.00" x2="257.70" y2="586.00" stroke="#000" stroke-width="0.75"/>
<polygon points="257.70,418.50 260.05,429.70 255.35,429.70" fill="#000"/>
<polygon points="257.70,586.00 255.35,574.80 260.05,574.80" fill="#000"/>
<text transform="translate(257.70 501.30) rotate(-90.00) scale(0.945 1)" font-size="13.10" text-anchor="middle" dominant-baseline="central">18.25"</text>
<line x1="258.00" y1="413.00" x2="270.00" y2="409.50" stroke="#000" stroke-width="0.60"/>
<line x1="280.00" y1="326.00" x2="280.00" y2="394.50" stroke="#000" stroke-width="0.75"/>
<polygon points="280.00,326.00 282.35,337.20 277.65,337.20" fill="#000"/>
<polygon points="280.00,394.50 277.65,383.30 282.35,383.30" fill="#000"/>
<text transform="translate(270.50 360.50) rotate(-90.00) scale(0.945 1)" font-size="13.10" text-anchor="middle" dominant-baseline="central">9.75"</text>
<line x1="269.00" y1="330.60" x2="293.00" y2="317.00" stroke="#000" stroke-width="0.75"/>
<line x1="350.00" y1="137.00" x2="350.00" y2="194.50" stroke="#000" stroke-width="0.60"/>
<line x1="350.00" y1="216.50" x2="350.00" y2="235.50" stroke="#000" stroke-width="0.60"/>
<line x1="350.00" y1="265.00" x2="350.00" y2="360.00" stroke="#000" stroke-width="0.60"/>
<polygon points="350.00,137.00 352.35,148.20 347.65,148.20" fill="#000"/>
<polygon points="350.00,360.00 347.65,348.80 352.35,348.80" fill="#000"/>
<text transform="translate(350.00 250.00) rotate(-90.00) scale(0.945 1)" font-size="13.10" text-anchor="middle" dominant-baseline="central">30"</text>
<line x1="508.60" y1="142.50" x2="508.60" y2="176.80" stroke="#000" stroke-width="0.75"/>
<line x1="508.60" y1="216.50" x2="508.60" y2="263.00" stroke="#000" stroke-width="0.75"/>
<polygon points="508.60,142.50 510.95,153.70 506.25,153.70" fill="#000"/>
<polygon points="508.60,263.00 506.25,251.80 510.95,251.80" fill="#000"/>
<text transform="translate(508.90 196.60) rotate(-90.00) scale(0.945 1)" font-size="13.10" text-anchor="middle" dominant-baseline="central">16.5"</text>
<line x1="163.00" y1="519.00" x2="333.75" y2="418.10" stroke="#000" stroke-width="0.75"/>
<line x1="360.00" y1="402.60" x2="529.60" y2="302.40" stroke="#000" stroke-width="0.75"/>
<polygon points="163.00,519.00 172.01,510.65 174.65,515.13" fill="#000"/>
<polygon points="529.60,302.40 520.59,310.75 517.95,306.27" fill="#000"/>
<text transform="translate(347.40 409.80) rotate(-30.00) scale(0.945 1)" font-size="13.10" text-anchor="middle" dominant-baseline="central">57"</text>
<line x1="397.00" y1="308.60" x2="437.00" y2="286.20" stroke="#000" stroke-width="0.75"/>
<polygon points="397.00,308.60 405.49,300.85 408.04,305.39" fill="#000"/>
<polygon points="437.00,286.20 428.51,293.95 425.96,289.41" fill="#000"/>
<text transform="translate(413.00 284.00) rotate(-29.00) scale(0.945 1)" font-size="13.10" text-anchor="middle" dominant-baseline="central">6.5"</text>
<line x1="391.00" y1="237.00" x2="461.00" y2="197.20" stroke="#000" stroke-width="0.75"/>
<polygon points="414.00,224.20 405.53,231.98 402.97,227.45" fill="#000"/>
<polygon points="440.30,208.50 448.77,200.72 451.33,205.25" fill="#000"/>
<rect x="-13" y="-5.5" width="26" height="11" fill="#fff" transform="translate(475.4 189.4) rotate(-29)"/>
<text transform="translate(475.20 189.40) rotate(-29.00) scale(0.945 1)" font-size="13.10" text-anchor="middle" dominant-baseline="central">3.5"</text>
</g>
</svg>
</body></html>
